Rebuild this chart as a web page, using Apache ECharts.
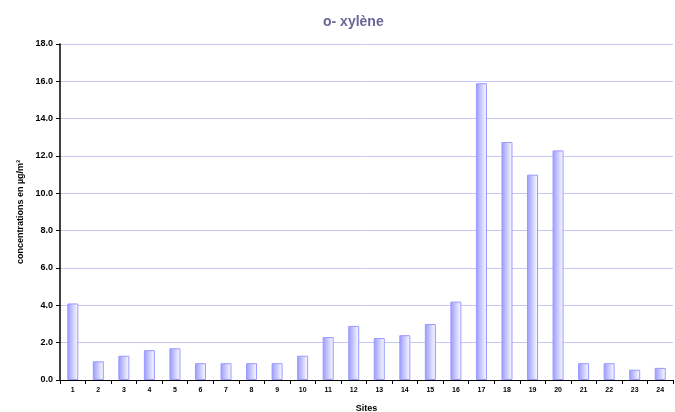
<!DOCTYPE html>
<html><head><meta charset="utf-8">
<script src="https://cdn.jsdelivr.net/npm/echarts@6/dist/echarts.min.js"></script>
<style>html,body{margin:0;padding:0;background:#fff}#c{width:675px;height:412px}</style>
</head><body><div id="c"></div>
<script>
const categories = ['1','2','3','4','5','6','7','8','9','10','11','12','13','14','15','16','17','18','19','20','21','22','23','24'];
const values = [4.1,1.0,1.3,1.6,1.7,0.9,0.9,0.9,0.9,1.3,2.3,2.9,2.25,2.4,3.0,4.2,15.9,12.75,11.0,12.3,0.9,0.9,0.55,0.65];
const title = 'o- xylène';
const yName = 'concentrations en µg/m³';
const xName = 'Sites';
const chart = echarts.init(document.getElementById('c'));
const font = 'Liberation Sans, Arial, sans-serif';
chart.setOption({
  animation:false,
  title:{text:title,left:318,top:10,textStyle:{color:'#666699',fontSize:14,fontWeight:'bold',fontFamily:font}},
  grid:{left:60,right:2,top:44,bottom:32,containLabel:false,outerBoundsMode:'none'},
  xAxis:{type:'category',data:categories,
    name:xName,nameLocation:'middle',nameGap:24,nameTextStyle:{fontSize:9,fontWeight:'bold',color:'#000',fontFamily:font},
    axisLine:{lineStyle:{color:'#000',width:1}},
    axisTick:{show:true,alignWithLabel:false,length:4,lineStyle:{color:'#000'}},
    axisLabel:{fontSize:7,fontWeight:'bold',color:'#000',fontFamily:font,margin:7,interval:0}},
  yAxis:{type:'value',min:0,max:18,interval:2,
    name:yName,nameLocation:'middle',nameGap:33,nameTextStyle:{fontSize:9,fontWeight:'bold',color:'#000',fontFamily:font},
    axisLine:{show:true,lineStyle:{color:'#000',width:1.5}},
    axisTick:{show:true,length:4,lineStyle:{color:'#000'}},
    axisLabel:{fontSize:9,fontWeight:'bold',color:'#000',fontFamily:font,margin:7,formatter:v=>v.toFixed(1)},
    splitLine:{lineStyle:{color:'#c8c8f8',width:1}}},
  series:[{type:'bar',data:values,barWidth:11,
    itemStyle:{borderColor:'#9999ff',borderWidth:1,
      color:new echarts.graphic.LinearGradient(0,0,1,0,[{offset:0,color:'#9999ff'},{offset:1,color:'#ffffff'}])}}]
});
</script></body></html>
